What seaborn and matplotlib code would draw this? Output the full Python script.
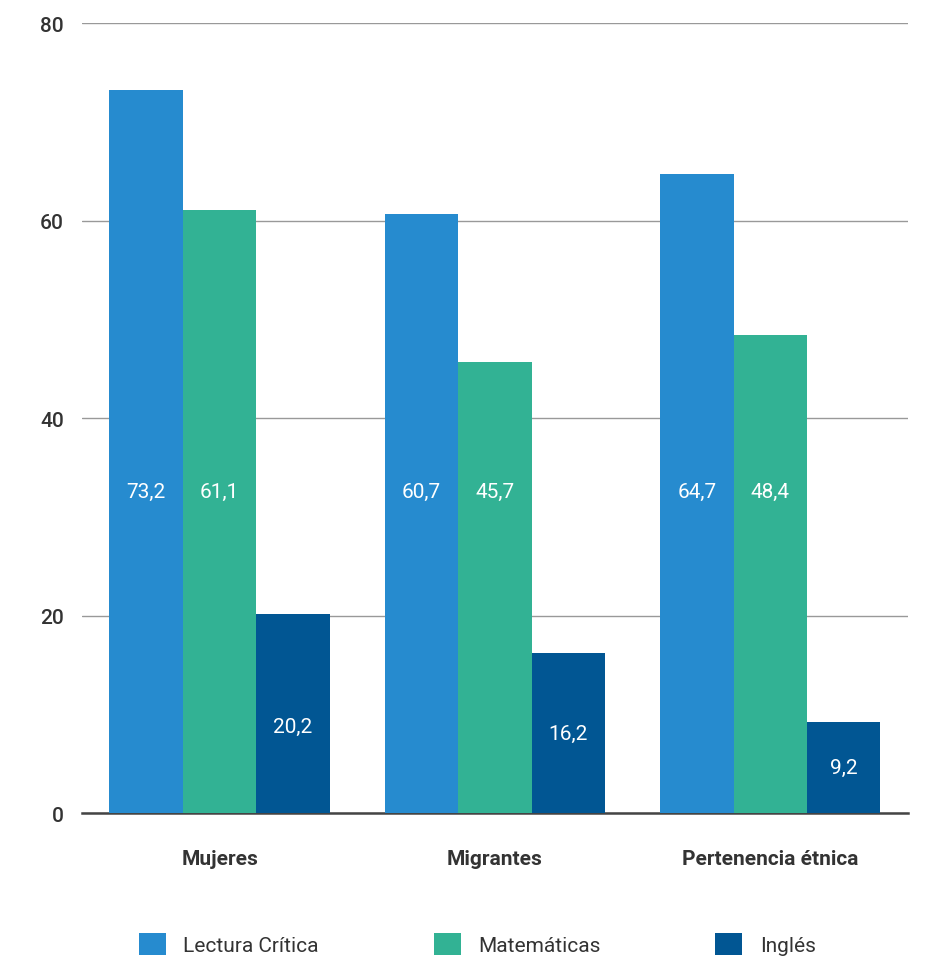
import matplotlib
matplotlib.use("Agg")
import matplotlib.pyplot as plt
import seaborn as sns
import pandas as pd
from matplotlib.patches import Patch

categories = ["Mujeres", "Migrantes", "Pertenencia étnica"]
series = ["Lectura Crítica", "Matemáticas", "Inglés"]
lectura = [73.2, 60.7, 64.7]
matematicas = [61.1, 45.7, 48.4]
ingles = [20.2, 16.2, 9.2]
yticks = [0, 20, 40, 60, 80]
colors = ["#268bcf", "#32b294", "#015693"]

rows = []
for s, vals in zip(series, [lectura, matematicas, ingles]):
    for c, v in zip(categories, vals):
        rows.append({"cat": c, "serie": s, "valor": v})
df = pd.DataFrame(rows)

sns.set_theme(style="white")
plt.rcParams["font.family"] = ["Roboto", "DejaVu Sans"]

fig = plt.figure(figsize=(9.25, 9.62), dpi=100)
ax = fig.add_axes([0.0886, 0.1538, 0.8930, 0.8212])

sns.barplot(data=df, x="cat", y="valor", hue="serie", order=categories,
            hue_order=series, palette=colors, width=0.8, saturation=1,
            edgecolor="none", linewidth=0, ax=ax, legend=False, zorder=3)

ax.set_ylim(0, 80)
ax.set_xlim(-0.5, 2.5)
ax.set_yticks(yticks)
ax.set_yticklabels([str(t) for t in yticks], fontsize=15, color="#333333",
                   fontweight="medium")
ax.yaxis.grid(True, color="#999999", linewidth=1, zorder=0)
ax.set_axisbelow(True)
for sp in ["top", "right", "left"]:
    ax.spines[sp].set_visible(False)
ax.spines["bottom"].set_color("#444444")
ax.spines["bottom"].set_linewidth(1.8)
ax.tick_params(axis="both", length=0)
ax.tick_params(axis="y", pad=13)
ax.tick_params(axis="x", pad=26)
ax.set_xticks(range(len(categories)))
ax.set_xticklabels(categories, fontsize=15, fontweight="bold", color="#333333")
ax.set_xlabel("")
ax.set_ylabel("")

# value labels
for container, vals in zip(ax.containers, [lectura, matematicas, ingles]):
    is_ing = vals is ingles
    for bar, v in zip(container, vals):
        xc = bar.get_x() + bar.get_width() / 2
        if is_ing:
            yc = min(8.8, v / 2)
        else:
            yc = 32.6
        ax.text(xc, yc, f"{v:.1f}".replace(".", ","), ha="center", va="center",
                color="white", fontsize=15)

handles = [Patch(facecolor=c, edgecolor="none") for c in colors]
fig.legend(handles, series, loc="center", bbox_to_anchor=(0.516, 0.0177), ncol=3,
           frameon=False, fontsize=15, handlelength=1.3, handleheight=1.3,
           handletextpad=0.85, columnspacing=5.5, labelcolor="#333333")

fig.savefig("out.png", dpi=100)
